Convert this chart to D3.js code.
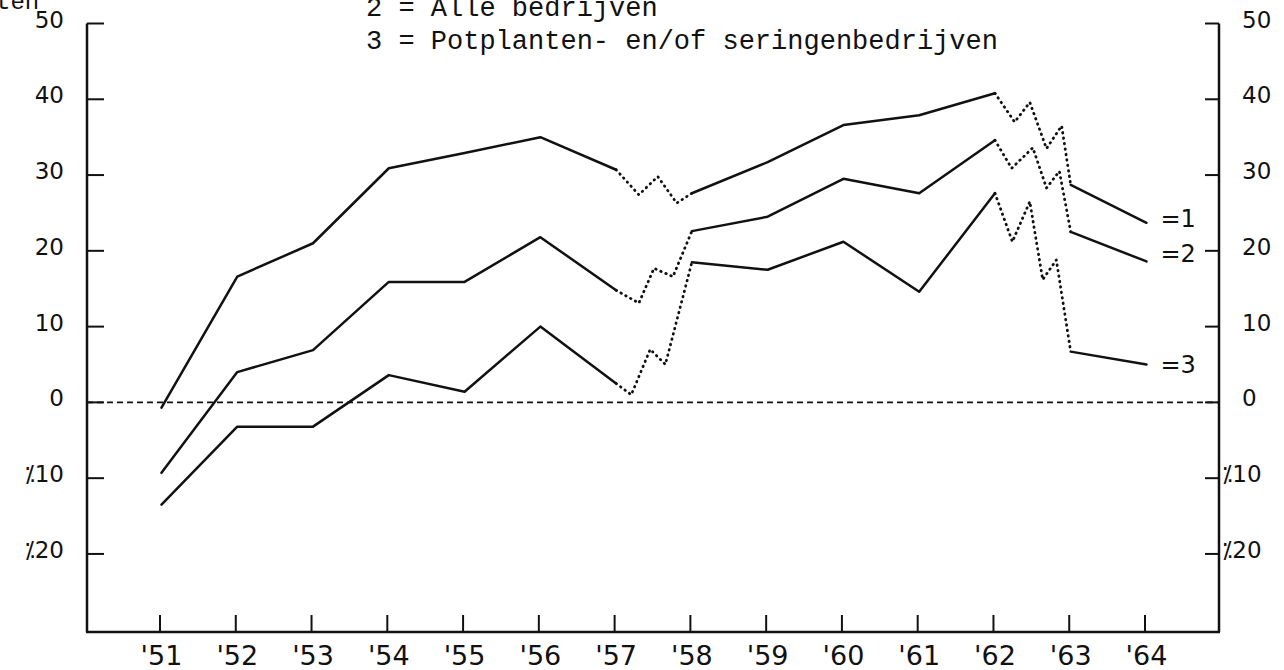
<!DOCTYPE html>
<meta charset="utf-8">
<style>
  body { margin: 0; background: #fff; }
  svg { display: block; }
  .mono { font-family: "Liberation Mono", monospace; fill: #111; }
  .tick { font-family: "DejaVu Sans", sans-serif; fill: #111; }
</style>
<script src="https://cdn.jsdelivr.net/npm/d3@7"></script>
<body>
<script>
// x tick labels and y tick values
var yearTicks = [1951, 1952, 1953, 1954, 1955, 1956, 1957, 1958, 1959, 1960, 1961, 1962, 1963, 1964];
var yearLabels = ["'51", "'52", "'53", "'54", "'55", "'56", "'57", "'58", "'59", "'60", "'61", "'62", "'63", "'64"];
var yTicks = [50, 40, 30, 20, 10, 0, -10, -20];
var yLabels = ["50", "40", "30", "20", "10", "0", "\u205210", "\u205220"];

// series 1 (top line)
var years1 = [1951, 1952, 1953, 1954, 1955, 1956, 1957, 1957.3, 1957.55, 1957.8, 1958, 1959, 1960, 1961, 1962, 1962.26, 1962.46, 1962.68, 1962.88, 1963, 1964];
var values1 = [-0.7, 16.6, 21.0, 30.9, 32.9, 35.0, 30.7, 27.4, 29.8, 26.3, 27.6, 31.7, 36.6, 37.9, 40.8, 37.0, 39.6, 33.5, 36.5, 28.7, 23.7];
// series 2 (alle bedrijven)
var years2 = [1951, 1952, 1953, 1954, 1955, 1956, 1957, 1957.3, 1957.5, 1957.75, 1958, 1959, 1960, 1961, 1962, 1962.22, 1962.5, 1962.68, 1962.85, 1963, 1964];
var values2 = [-9.3, 4.0, 6.9, 15.9, 15.9, 21.8, 14.8, 13.1, 17.7, 16.6, 22.6, 24.5, 29.5, 27.6, 34.6, 30.9, 33.6, 28.3, 30.5, 22.5, 18.6];
// series 3 (potplanten- en/of seringenbedrijven)
var years3 = [1951, 1952, 1953, 1954, 1955, 1956, 1957, 1957.2, 1957.45, 1957.65, 1958, 1959, 1960, 1961, 1962, 1962.23, 1962.46, 1962.63, 1962.81, 1963, 1964];
var values3 = [-13.5, -3.2, -3.2, 3.6, 1.4, 10.0, 2.5, 1.0, 7.0, 5.0, 18.5, 17.5, 21.2, 14.6, 27.6, 21.2, 26.5, 16.2, 18.8, 6.7, 5.0];

var seriesNames = ["=1", "=2", "=3"];
// year ranges drawn dotted
var dottedRanges = [[1957, 1958], [1962, 1963]];

var legendLines = ["2 = Alle bedrijven", "3 = Potplanten- en/of seringenbedrijven"];

var width = 1284, height = 670;

var svg = d3.select("body").append("svg")
    .attr("width", width)
    .attr("height", height);

var x = d3.scaleLinear().domain([1951, 1964]).range([161.5, 1146.5]);
var y = d3.scaleLinear().domain([-30.3, 50]).range([632, 23.5]);

var leftX = 87, rightX = 1219, bottomY = y(-30.3);

// axes frame
svg.append("line")
    .attr("x1", leftX).attr("x2", leftX)
    .attr("y1", y(50)).attr("y2", bottomY)
    .attr("stroke", "#111").attr("stroke-width", 2.5);
svg.append("line")
    .attr("x1", rightX).attr("x2", rightX)
    .attr("y1", y(50)).attr("y2", bottomY)
    .attr("stroke", "#111").attr("stroke-width", 2.5);
svg.append("line")
    .attr("x1", leftX - 1).attr("x2", rightX + 1)
    .attr("y1", bottomY).attr("y2", bottomY)
    .attr("stroke", "#111").attr("stroke-width", 2.5);

// y ticks both sides
svg.selectAll(".ltick").data(yTicks).enter().append("line")
    .attr("x1", leftX).attr("x2", leftX + 17)
    .attr("y1", function(d) { return y(d); }).attr("y2", function(d) { return y(d); })
    .attr("stroke", "#111").attr("stroke-width", 2);
svg.selectAll(".rtick").data(yTicks).enter().append("line")
    .attr("x1", rightX - 14).attr("x2", rightX)
    .attr("y1", function(d) { return y(d); }).attr("y2", function(d) { return y(d); })
    .attr("stroke", "#111").attr("stroke-width", 2);

svg.selectAll(".llab").data(yTicks).enter().append("text")
    .attr("class", "tick")
    .attr("x", 64)
    .attr("y", function(d) { return y(d) - 4; })
    .attr("dy", "0.35em")
    .attr("text-anchor", "end")
    .style("font-size", "23px")
    .text(function(d, i) { return yLabels[i]; });
svg.selectAll(".rlab").data(yTicks).enter().append("text")
    .attr("class", "tick")
    .attr("x", function(d) { return d < 0 ? 1222 : 1242; })
    .attr("y", function(d) { return y(d) - 4; })
    .attr("dy", "0.35em")
    .style("font-size", "23px")
    .text(function(d, i) { return yLabels[i]; });

// x ticks
svg.selectAll(".xtick").data(yearTicks).enter().append("line")
    .attr("x1", function(d) { return x(d) - 1.5; }).attr("x2", function(d) { return x(d) - 1.5; })
    .attr("y1", bottomY - 17).attr("y2", bottomY)
    .attr("stroke", "#111").attr("stroke-width", 2);
svg.selectAll(".xlab").data(yearTicks).enter().append("text")
    .attr("class", "tick")
    .attr("x", function(d) { return x(d); })
    .attr("y", 665)
    .attr("text-anchor", "middle")
    .style("font-size", "27px")
    .text(function(d, i) { return yearLabels[i]; });

// zero line
svg.append("line")
    .attr("x1", leftX).attr("x2", rightX)
    .attr("y1", y(0)).attr("y2", y(0))
    .attr("stroke", "#111").attr("stroke-width", 1.6)
    .attr("stroke-dasharray", "6,4");

// lines: split into solid and dotted pieces
var line = d3.line().x(function(d) { return x(d[0]); }).y(function(d) { return y(d[1]); });

function inDotted(a, b) {
    return dottedRanges.some(function(r) { return a >= r[0] && b <= r[1]; });
}

function drawSeries(years, values, name, labelShift) {
    var pts = years.map(function(yr, i) { return [yr, values[i]]; });
    var pieces = [], cur = [pts[0]], curDot = inDotted(pts[0][0], pts[1][0]);
    for (var i = 1; i < pts.length; i++) {
        var dot = inDotted(pts[i - 1][0], pts[i][0]);
        if (dot !== curDot) {
            pieces.push({ dot: curDot, pts: cur });
            cur = [pts[i - 1]];
            curDot = dot;
        }
        cur.push(pts[i]);
    }
    pieces.push({ dot: curDot, pts: cur });

    pieces.forEach(function(p) {
        svg.append("path")
            .attr("d", line(p.pts))
            .attr("fill", "none")
            .attr("stroke", "#111")
            .attr("stroke-width", p.dot ? 2.8 : 2.5)
            .attr("stroke-linecap", "round")
            .attr("stroke-linejoin", "round")
            .attr("stroke-dasharray", p.dot ? "0.5,5" : null);
    });

    var last = pts[pts.length - 1];
    svg.append("text")
        .attr("class", "tick")
        .attr("x", x(last[0]) + 14)
        .attr("y", y(last[1]) + labelShift)
        .attr("dy", "0.35em")
        .style("font-size", "24px")
        .text(name);
}

drawSeries(years1, values1, seriesNames[0], -4);
drawSeries(years2, values2, seriesNames[1], -8);
drawSeries(years3, values3, seriesNames[2], 0);

// legend text at top (partly cut off by the page edge, as in the scan)
svg.append("text").attr("class", "mono")
    .attr("x", -4).attr("y", 9)
    .style("font-size", "24px")
    .text("ten");
svg.selectAll(".leg").data(legendLines).enter().append("text")
    .attr("class", "mono")
    .attr("x", 366)
    .attr("y", function(d, i) { return 16 + i * 33; })
    .style("font-size", "27px")
    .text(function(d) { return d; });
</script>
</body>
